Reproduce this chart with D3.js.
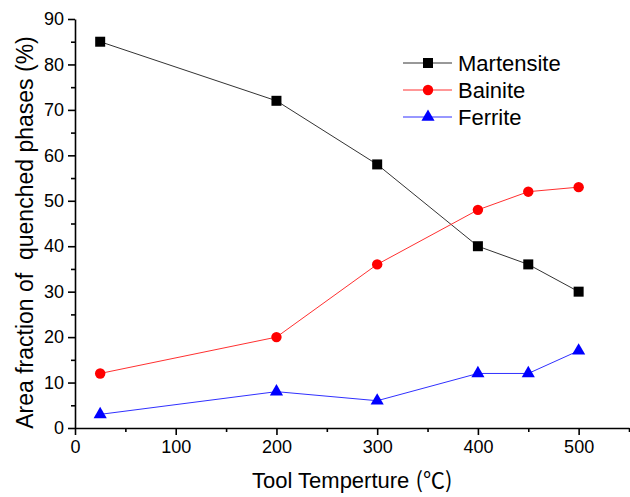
<!DOCTYPE html>
<html lang="en">
<head>
<meta charset="UTF-8">
<title>Quenched phases vs tool temperature</title>
<script src="https://d3js.org/d3.v7.min.js"></script>
<style>
  body { margin: 0; background: #fff; }
  svg text { font-family: Arial, "Liberation Sans", sans-serif; fill: #000; }
</style>
</head>
<body>
<div id="chart"></div>
<script>
// data
const temps = [25, 200, 300, 400, 450, 500];
const martensite = [85, 72, 58, 40, 36, 30];
const bainite = [12, 20, 36, 48, 52, 53];
const ferrite = [3, 8, 6, 12, 12, 17];
const xTicks = [0, 100, 200, 300, 400, 500];
const yTicks = [0, 10, 20, 30, 40, 50, 60, 70, 80, 90];

const series = [
  { name: "Martensite", values: martensite, color: "#000", line: "#333", symbol: d3.symbolSquare, size: 100 },
  { name: "Bainite", values: bainite, color: "#ff0000", line: "#ff3030", symbol: d3.symbolCircle, size: 85 },
  { name: "Ferrite", values: ferrite, color: "#0000ff", line: "#3030ff", symbol: d3.symbolTriangle, size: 75 }
];

const W = 630, H = 497;
const margin = { top: 19, right: 1, bottom: 69, left: 75 };

const svg = d3.select("#chart").append("svg")
  .attr("width", W).attr("height", H);

const x = d3.scaleLinear().domain([0, 550]).range([margin.left, W - margin.right]);
const y = d3.scaleLinear().domain([0, 90]).range([H - margin.bottom, margin.top]);

// minor ticks
svg.append("g")
  .attr("transform", `translate(0,${y(0)})`)
  .call(d3.axisBottom(x).tickValues(d3.range(50, 551, 100)).tickSize(4).tickFormat(""))
  .call(g => g.select(".domain").remove());
svg.append("g")
  .attr("transform", `translate(${x(0)},0)`)
  .call(d3.axisLeft(y).tickValues(d3.range(5, 90, 10)).tickSize(4).tickFormat(""))
  .call(g => g.select(".domain").remove());

// major axes
svg.append("g")
  .attr("transform", `translate(0,${y(0)})`)
  .call(d3.axisBottom(x).tickValues(xTicks).tickSize(7).tickSizeOuter(0).tickPadding(5))
  .call(g => g.selectAll("text").style("font-size", "18px"));
svg.append("g")
  .attr("transform", `translate(${x(0)},0)`)
  .call(d3.axisLeft(y).tickValues(yTicks).tickSize(7).tickSizeOuter(0).tickPadding(4))
  .call(g => g.selectAll("text").style("font-size", "18px"));

svg.selectAll(".domain, .tick line").attr("stroke", "#000").attr("stroke-width", 1.6);

// lines + markers
const line = d3.line().x((d, i) => x(temps[i])).y(d => y(d));
series.forEach(s => {
  svg.append("path")
    .datum(s.values)
    .attr("d", line)
    .attr("fill", "none")
    .attr("stroke", s.line)
    .attr("stroke-width", 1);
  svg.append("g").selectAll("path")
    .data(s.values)
    .join("path")
    .attr("transform", (d, i) => `translate(${x(temps[i])},${y(d)})`)
    .attr("d", d3.symbol().type(s.symbol).size(s.size))
    .attr("fill", s.color);
});

// legend
const legend = svg.append("g").attr("transform", "translate(403,63)");
series.forEach((s, i) => {
  const g = legend.append("g").attr("transform", `translate(0,${i * 27})`);
  g.append("line").attr("x1", 0).attr("x2", 49).attr("y1", 0).attr("y2", 0)
    .attr("stroke", s.line).attr("stroke-width", 1);
  g.append("path").attr("transform", "translate(25,0)")
    .attr("d", d3.symbol().type(s.symbol).size(s.size)).attr("fill", s.color);
  g.append("text").attr("x", 55).attr("y", 8).style("font-size", "22px").text(s.name);
});

// axis titles
const xt = svg.append("text")
  .attr("x", 252).attr("y", 488)
  .style("font-size", "22px");
xt.append("tspan").text("Tool Temperture ");
xt.append("tspan").style("font-family", "'Noto Sans CJK SC', sans-serif").text("(℃)");

svg.append("text")
  .attr("transform", `translate(33,${(y(0) + y(90)) / 2 + 9}) rotate(-90)`)
  .attr("text-anchor", "middle").style("font-size", "23px")
  .attr("xml:space", "preserve")
  .text("Area fraction of  quenched phases (%)");
</script>
</body>
</html>
